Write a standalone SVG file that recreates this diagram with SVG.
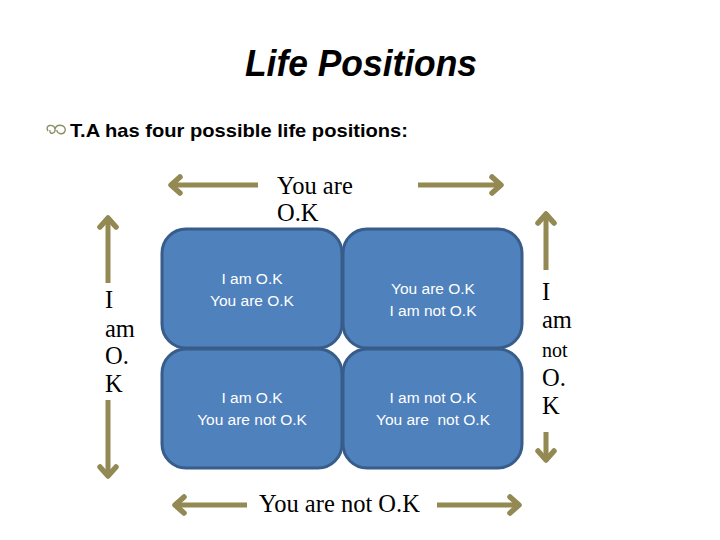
<svg xmlns="http://www.w3.org/2000/svg" width="720" height="540" viewBox="0 0 720 540">
<style>
.title{font-family:"Liberation Sans",Arial,sans-serif;font-weight:bold;font-style:italic;font-size:36px;fill:#000}
.bul{font-family:"Liberation Sans",Arial,sans-serif;font-weight:bold;font-size:19px;fill:#000}
.ser{font-family:"Liberation Serif","Times New Roman",serif;font-size:24.5px;fill:#000}
.box{fill:#4F81BD;stroke:#385D8A;stroke-width:3}
.bt{font-family:"Liberation Sans",Arial,sans-serif;font-size:15.5px;fill:#fff;text-anchor:middle}
.arr{stroke:#938953;stroke-width:5;fill:none}
.head{stroke:#938953;stroke-width:5.5;fill:none;stroke-linecap:round;stroke-linejoin:round}
</style>
<rect width="720" height="540" fill="#fff"/>
<text class="title" x="361" y="76" text-anchor="middle" textLength="232" lengthAdjust="spacingAndGlyphs">Life Positions</text>
<path d="M48 131 c-4 -6 6 -8 7 -2 c1 5 -6 6 -5 1 M55 129 c2 -6 12 -4 10 2 c-2 5 -9 2 -8 -1" fill="none" stroke="#8C8D63" stroke-width="1.4"/>
<text class="bul" x="70" y="137" textLength="338" lengthAdjust="spacingAndGlyphs">T.A has four possible life positions:</text>

<g id="connectors">
  <line class="arr" x1="172" y1="185" x2="258" y2="185"/>
  <polyline class="head" points="180,177 171,185 180,193"/>
  <line class="arr" x1="418" y1="185" x2="500" y2="185"/>
  <polyline class="head" points="492,177 501,185 492,193"/>

  <line class="arr" x1="176" y1="505" x2="247" y2="505"/>
  <polyline class="head" points="184,497 175,505 184,513"/>
  <line class="arr" x1="437" y1="505" x2="518" y2="505"/>
  <polyline class="head" points="510,497 519,505 510,513"/>

  <line class="arr" x1="108" y1="220" x2="108" y2="283"/>
  <polyline class="head" points="100,227 108,218 116,227"/>
  <line class="arr" x1="108" y1="400" x2="108" y2="474"/>
  <polyline class="head" points="100,467 108,476 116,467"/>

  <line class="arr" x1="546" y1="216" x2="546" y2="270"/>
  <polyline class="head" points="538,223 546,214 554,223"/>
  <line class="arr" x1="546" y1="432" x2="546" y2="458"/>
  <polyline class="head" points="538,451 546,460 554,451"/>
</g>

<g id="label-top">
  <text class="ser" x="277" y="194">You are</text>
  <text class="ser" x="277" y="221">O.K</text>
</g>
<g id="label-bottom">
  <text class="ser" x="259" y="512">You are not O.K</text>
</g>
<g id="label-left">
  <text class="ser" x="105" y="308">I</text>
  <text class="ser" x="105" y="337">am</text>
  <text class="ser" x="105" y="364">O.</text>
  <text class="ser" x="105" y="392">K</text>
</g>
<g id="label-right">
  <text class="ser" x="542" y="300">I</text>
  <text class="ser" x="542" y="328">am</text>
  <text class="ser" x="542" y="357" style="font-size:20px">not</text>
  <text class="ser" x="542" y="386">O.</text>
  <text class="ser" x="542" y="414">K</text>
</g>

<g id="box-ok-ok">
  <rect class="box" x="162" y="229" width="180" height="119" rx="24"/>
  <text class="bt" x="252" y="284">I am O.K</text>
  <text class="bt" x="252" y="306">You are O.K</text>
</g>
<g id="box-notok-ok">
  <rect class="box" x="343" y="229" width="179" height="119" rx="24"/>
  <text class="bt" x="433" y="294">You are O.K</text>
  <text class="bt" x="433" y="316">I am not O.K</text>
</g>
<g id="box-ok-notok">
  <rect class="box" x="162" y="349" width="180" height="119" rx="24"/>
  <text class="bt" x="252" y="403">I am O.K</text>
  <text class="bt" x="252" y="425">You are not O.K</text>
</g>
<g id="box-notok-notok">
  <rect class="box" x="343" y="349" width="179" height="119" rx="24"/>
  <text class="bt" x="433" y="403">I am not O.K</text>
  <text class="bt" x="433" y="425" xml:space="preserve">You are  not O.K</text>
</g>
</svg>
